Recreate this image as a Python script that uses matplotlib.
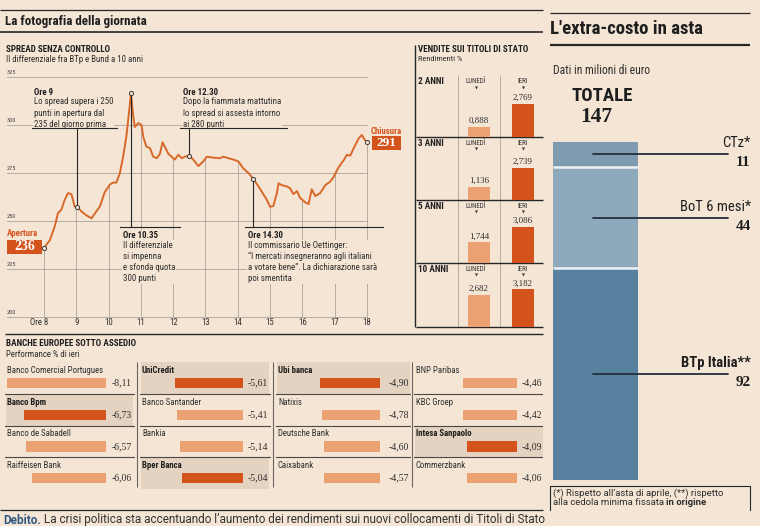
import numpy as np
import matplotlib
matplotlib.use('Agg')
import matplotlib.pyplot as plt
from matplotlib import font_manager
from matplotlib.patches import Rectangle

# ---------------- data ----------------
hours = [8.00, 8.18, 8.33, 8.43, 8.54, 8.64, 8.74, 8.85, 8.95, 9.02, 9.16, 9.31, 9.47,
         9.62, 9.73, 9.88, 10.04, 10.14, 10.24, 10.35, 10.45, 10.55, 10.66, 10.69, 10.76,
         10.81, 10.92, 11.02, 11.07, 11.17, 11.28, 11.38, 11.49, 11.59, 11.67, 11.74,
         11.85, 11.95, 12.05, 12.16, 12.26, 12.36, 12.50, 12.62, 12.78, 12.93, 13.04,
         13.24, 13.45, 13.55, 13.71, 13.86, 14.02, 14.17, 14.33, 14.48, 14.64, 14.79,
         14.90, 15.00, 15.10, 15.21, 15.26, 15.36, 15.52, 15.62, 15.72, 15.83, 15.93,
         16.09, 16.19, 16.29, 16.40, 16.55, 16.71, 16.86, 16.97, 17.12, 17.28, 17.38,
         17.48, 17.59, 17.74, 17.84, 17.90, 18.00]
spread = [236.0, 240.0, 247.0, 254.0, 256.0, 261.0, 264.5, 264.0, 257.5, 257.5, 255.0,
          253.0, 251.4, 255.0, 257.5, 265.0, 269.0, 270.0, 270.0, 275.0, 283.5, 294.0,
          311.0, 316.5, 305.0, 299.0, 301.0, 300.0, 294.0, 288.7, 288.0, 283.5, 282.7,
          285.0, 291.0, 288.7, 285.0, 283.5, 282.0, 284.5, 282.7, 283.5, 284.0, 282.0,
          278.6, 281.0, 283.5, 283.0, 282.7, 283.5, 282.7, 282.0, 281.0, 277.4, 275.0,
          272.0, 268.0, 264.0, 261.0, 257.4, 257.8, 264.5, 269.6, 268.7, 268.0, 267.0,
          264.0, 265.6, 262.0, 259.7, 258.8, 266.5, 263.0, 264.5, 268.7, 270.5, 273.0,
          278.0, 281.7, 284.5, 284.0, 288.0, 293.0, 294.8, 293.0, 291.0]
marker_hours = [8.00, 9.02, 10.69, 12.50, 14.48, 18.00]
hour_ticks = [8, 9, 10, 11, 12, 13, 14, 15, 16, 17, 18]
hour_labels = ['Ore 8', '9', '10', '11', '12', '13', '14', '15', '16', '17', '18']
y_ticks = [200, 225, 250, 275, 300, 325]

tenors = ['2 ANNI', '3 ANNI', '5 ANNI', '10 ANNI']
yield_cols = ['LUNEDÌ', 'IERI']
yield_lunedi = [0.888, 1.136, 1.744, 2.682]
yield_ieri = [2.769, 2.739, 3.086, 3.182]

banks = ['Banco Comercial Portugues', 'Banco Bpm', 'Banco de Sabadell', 'Raiffeisen Bank',
         'UniCredit', 'Banco Santander', 'Bankia', 'Bper Banca',
         'Ubi banca', 'Natixis', 'Deutsche Bank', 'Caixabank',
         'BNP Paribas', 'KBC Groep', 'Intesa Sanpaolo', 'Commerzbank']
bank_perf = [-8.11, -6.73, -6.57, -6.06, -5.61, -5.41, -5.14, -5.04,
             -4.90, -4.78, -4.60, -4.57, -4.46, -4.42, -4.09, -4.06]
bank_italian = [False, True, False, False, True, False, False, True,
                True, False, False, False, False, False, True, False]

costo_labels = ['CTz*', 'BoT 6 mesi*', 'BTp Italia**']
costo_values = [11, 44, 92]

# ---------------- fonts ----------------
names = {f.name for f in font_manager.fontManager.ttflist}
def pick(cands, default=None):
    for c in cands:
        if c in names:
            return c
    return default
SANS = pick(['Liberation Sans Narrow', 'Roboto Condensed', 'Open Sans Condensed'])
STRETCH = 'normal'
if SANS is None:
    cond = [f for f in font_manager.fontManager.ttflist
            if f.name == 'DejaVu Sans' and str(f.stretch) in ('condensed', 'semi-condensed')]
    if cond:
        SANS, STRETCH = 'DejaVu Sans', 'condensed'
    else:
        SANS = pick(['Roboto', 'Liberation Sans'], 'DejaVu Sans')
SERIF = pick(['Liberation Serif', 'DejaVu Serif'], 'DejaVu Serif')
WIDE = pick(['Roboto', 'Lato', 'Liberation Sans'], 'DejaVu Sans')
plt.rcParams['font.family'] = [SANS, 'DejaVu Sans']
plt.rcParams['font.stretch'] = STRETCH

# ---------------- colours ----------------
BG = '#f4e5d5'
DARK = '#262626'
TXT = '#2e2e2e'
GRID = '#aaa39b'
LINE = '#d8692a'
ORANGE = '#d4531c'
LIGHT_OR = '#eba171'
HILITE = '#e4d3c1'
STACK_COLORS = ['#7f9bb0', '#8ea9bc', '#58809f']

W, H = 760, 526
fig = plt.figure(figsize=(7.6, 5.26), dpi=100, facecolor=BG)

def axes_px(x0, y0, x1, y1):
    a = fig.add_axes([x0 / W, 1 - y1 / H, (x1 - x0) / W, (y1 - y0) / H])
    a.patch.set_visible(False)
    a.axis('off')
    return a

bg = axes_px(0, 0, W, H)
bg.set_xlim(0, W)
bg.set_ylim(H, 0)

def T(x, y, s, **kw):
    kw.setdefault('color', TXT)
    kw.setdefault('va', 'center')
    return bg.text(x, y, s, **kw)

def HL(y, x0, x1, lw=1.0, c=DARK):
    bg.plot([x0, x1], [y, y], color=c, lw=lw, solid_capstyle='butt')

def VL(x, y0, y1, lw=1.0, c=DARK):
    bg.plot([x, x], [y0, y1], color=c, lw=lw, solid_capstyle='butt')

# ---------------- header left ----------------
HL(10, 0, 543, lw=0.9)
T(5, 21, 'La fotografia della giornata', fontsize=9.4, weight='bold', color='#1e1e1e')
HL(31.5, 0, 543, lw=1.2)
T(6, 49, 'SPREAD SENZA CONTROLLO', fontsize=6.5, weight='bold', color='#1e1e1e')
T(6, 59, 'Il differenziale fra BTp e Bund a 10 anni', fontsize=6.4)

# ---------------- spread line chart ----------------
PX_PER_H = 32.3
X8 = 44
Y200 = 317
PX_PER_PT = 48 / 25

def hx(px):
    return 8 + (px - X8) / PX_PER_H

def vy(py):
    return 200 + (Y200 - py) / PX_PER_PT

ax = axes_px(0, 60, 410, 330)
ax.set_xlim(hx(0), hx(410))
ax.set_ylim(vy(330), vy(60))

for v in y_ticks:
    ax.plot([hx(7), hx(367)], [v, v], color=GRID, lw=0.6, zorder=1)
    ax.annotate(str(v), (hx(7), v), xytext=(0, 1.2), textcoords='offset points',
                fontsize=4.5, va='bottom', ha='left', color='#444')
for h in hour_ticks:
    top = np.interp(h, hours, spread)
    ax.plot([h, h], [200, top], color=GRID, lw=0.6, zorder=1)
for i, (h, lab) in enumerate(zip(hour_ticks, hour_labels)):
    ax.annotate(lab, (h, 200), xytext=(-3.5 if i == 0 else 0, -4.3), textcoords='offset points',
                ha='center', va='center', fontsize=6.3, color=TXT)

ax.plot(hours, spread, color=LINE, lw=1.4, zorder=3, solid_joinstyle='round')
mvals = np.interp(marker_hours, hours, spread)

annots = [
    (9.02, vy(128), 32, 117, 34, 92, 'Ore 9',
     'Lo spread supera i 250\npunti in apertura dal\n235 del giorno prima'),
    (12.50, vy(128), 180, 287, 183, 92, 'Ore 12.30',
     'Dopo la fiammata mattutina\nlo spread si assesta intorno\nai 280 punti'),
    (10.69, vy(227), 120, 180, 123, 235, 'Ore 10.35',
     'Il differenziale\nsi impenna\ne sfonda quota\n300 punti'),
    (14.48, vy(227), 245, 383, 248, 235, 'Ore 14.30',
     'Il commissario Ue Oettinger:\n“I mercati insegneranno agli italiani\n'
     'a votare bene”. La dichiarazione sarà\npoi smentita'),
]
for h, lev, x0, x1, tx, ty, head, body in annots:
    mv = np.interp(h, hours, spread)
    ax.plot([h, h], [mv, lev], color=DARK, lw=0.8, zorder=6)
    ax.plot([hx(x0), hx(x1)], [lev, lev], color=DARK, lw=0.8, zorder=6)
    ax.text(hx(tx), vy(ty), head, fontsize=6.4, weight='bold', va='center', ha='left',
            color='#1e1e1e', zorder=5,
            bbox=dict(boxstyle='square,pad=0.1', fc=BG, ec='none'))
    ax.text(hx(tx), vy(ty + 5.5), body, fontsize=6.4, va='top', ha='left', color=TXT,
            linespacing=1.3, zorder=5,
            bbox=dict(boxstyle='square,pad=0.1', fc=BG, ec='none'))

ax.scatter(marker_hours, mvals, s=9, facecolor=BG, edgecolor='#3a3a3a', lw=0.7, zorder=7)

# Apertura / Chiusura
T(7, 234, 'Apertura', fontsize=6.4, weight='bold', color=ORANGE)
bg.add_patch(Rectangle((7, 240), 35, 13.5, fc=ORANGE, ec='none'))
T(24.5, 247, f'{spread[0]:.0f}', fontsize=10, weight='bold', family=SERIF,
  color='white', ha='center')
T(386, 131, 'Chiusura', fontsize=6.4, weight='bold', color=ORANGE, ha='center')
bg.add_patch(Rectangle((372, 136), 29, 13.5, fc=ORANGE, ec='none'))
T(386.5, 143, f'{spread[-1]:.0f}', fontsize=9.5, weight='bold', family=SERIF,
  color='white', ha='center')

# ---------------- Vendite sui titoli di stato ----------------
VL(415, 45, 327, lw=1.0)
T(418, 49, 'VENDITE SUI TITOLI DI STATO', fontsize=6.5, weight='bold', color='#1e1e1e')
T(418, 59, 'Rendimenti %', fontsize=6)
row_tops = [75, 137, 200, 263]
row_bots = [137, 200, 263, 327]
VL(458, 75, 327, lw=0.6, c=GRID)
VL(500, 75, 327, lw=0.6, c=GRID)
for i, ten in enumerate(tenors):
    t0, t1 = row_tops[i], row_bots[i]
    rax = axes_px(416, t0, 543, t1)
    rax.set_xlim(-1.432, 1.455)
    rax.set_ylim(0, (t1 - t0) / 11.8)
    vals = [yield_lunedi[i], yield_ieri[i]]
    rax.bar([0, 1], vals, width=0.5, color=[LIGHT_OR, ORANGE])
    for x, v in zip([0, 1], vals):
        rax.annotate(f'{v:.3f}'.replace('.', ','), (x, v), xytext=(0, 1.5),
                     textcoords='offset points', ha='center', va='bottom',
                     family=SERIF, fontsize=6.4, color=TXT)
    hy = (t0 + 6.8) if i == 0 else (t0 + 6.3)
    T(418, hy, ten, fontsize=6.6, weight='bold', color='#1e1e1e')
    for cx, lab in zip([476, 523], yield_cols):
        T(cx, hy, lab, fontsize=5, ha='center', color='#333')
        T(cx, hy + 6.2, '▼', fontsize=2.8, ha='center', color='#333', family='DejaVu Sans')
    HL(t1, 416, 543, lw=1.0)

# ---------------- Banche europee ----------------
HL(334, 5, 543, lw=1.0)
T(6, 344, 'BANCHE EUROPEE SOTTO ASSEDIO', fontsize=6.6, weight='bold', color='#1e1e1e')
T(6, 354.5, 'Performance % di ieri', fontsize=6.3)
col_specs = [(5, 135, 106, 132), (140, 271, 243, 268), (276, 411, 380, 409), (414, 543, 517, 542)]
for xs in (137, 273, 412):
    VL(xs, 362, 487, lw=0.8, c='#6b6660')
BAR_SCALE = 12.2
for c, (cl, cr, be, lr) in enumerate(col_specs):
    bax = axes_px(cl, 362, cr, 489)
    bax.set_xlim((cl - be) / BAR_SCALE, (cr - be) / BAR_SCALE)
    bax.set_ylim(4, 0)
    width = cr - cl
    sl = slice(c * 4, c * 4 + 4)
    names_c = banks[sl]
    perf_c = bank_perf[sl]
    ital_c = bank_italian[sl]
    for j, it in enumerate(ital_c):
        if it:
            bax.axhspan(j, j + 1, xmin=1 / width, xmax=(lr + 1 - cl) / width,
                        fc=HILITE, ec='none', zorder=0)
    ypos = np.arange(4) + 0.66
    bax.barh(ypos, perf_c, height=0.32,
             color=[ORANGE if it else LIGHT_OR for it in ital_c], zorder=2)
    tr = bax.get_yaxis_transform()
    for j, (nm, v, it) in enumerate(zip(names_c, perf_c, ital_c)):
        bax.text(2 / width, j + 0.26, nm, transform=tr, fontsize=6.3, va='center', ha='left',
                 weight='bold' if it else 'normal', color='#1e1e1e' if it else TXT)
        bax.text((lr - cl) / width, ypos[j], f'{v:.2f}'.replace('.', ','), transform=tr,
                 fontsize=7, family=SERIF, va='center', ha='right', color=TXT)
    for j in range(1, 4):
        bax.axhline(j, color='#4a4744', lw=0.8, zorder=3)

# ---------------- footer ----------------
HL(510, 0, 543, lw=0.9)
t1 = T(3, 520, 'Debito.', fontsize=8.5, weight='bold', color='#2f5a84', family=[WIDE, 'DejaVu Sans'])
bg.annotate(' La crisi politica sta accentuando l’aumento dei rendimenti sui nuovi '
            'collocamenti di Titoli di Stato', xy=(1, 0.5), xycoords=t1,
            va='center', ha='left', fontsize=8.5, color='#333', family=[WIDE, 'DejaVu Sans'])

# ---------------- right panel ----------------
HL(12.7, 550, 750, lw=0.9)
T(550, 29, "L'extra-costo in asta", fontsize=13.5, weight='bold', color='#1e1e1e')
HL(45, 550, 750, lw=1.6)
T(553, 70, 'Dati in milioni di euro', fontsize=8.4)
T(602, 96, 'TOTALE', fontsize=13.5, weight='bold', ha='center', color='#1e1e1e')
total = sum(costo_values)
T(596, 117, f'{total}', fontsize=15.5, weight='bold', family=SERIF, ha='center', color='#1e1e1e')

sax = axes_px(548, 141.7, 755, 480)
sax.set_xlim(-0.56, 1.87)
sax.set_ylim(total, 0)
cum = np.concatenate([[0], np.cumsum(costo_values)[:-1]])
sax.bar(0, costo_values, bottom=cum, width=1, color=STACK_COLORS, linewidth=0)
sax.hlines(cum[1:], -0.5, 0.5, color='#eef2f4', lw=1.8)
mids = cum + np.array(costo_values) / 2
for k, (lab, v, m) in enumerate(zip(costo_labels, costo_values, mids)):
    sax.plot([-0.03, 1.55], [m, m], color='#24303c', lw=1.3, solid_capstyle='round')
    sax.annotate(lab, (1.82, m), xytext=(0, 2.8), textcoords='offset points',
                 ha='right', va='bottom', fontsize=10.5,
                 weight='bold' if k == 2 else 'normal', color='#1e1e1e')
    sax.annotate(f'{v}', (1.82, m), xytext=(0, -1.5), textcoords='offset points',
                 ha='right', va='top', fontsize=11, weight='bold', family=SERIF,
                 color='#1e1e1e')

bg.plot([550, 550, 750, 750], [510, 486, 486, 510], color=DARK, lw=0.8)
T(553, 493, '(*) Rispetto all’asta di aprile, (**) rispetto', fontsize=6.8,
  family=[WIDE, 'DejaVu Sans'])
t2 = T(553, 502.5, 'alla cedola minima fissata ', fontsize=6.8, family=[WIDE, 'DejaVu Sans'])
bg.annotate('in origine', xy=(1, 0.5), xycoords=t2, va='center', ha='left',
            fontsize=6.8, weight='bold', color=TXT, family=[WIDE, 'DejaVu Sans'])

fig.savefig('out.png', dpi=100, facecolor=BG)
